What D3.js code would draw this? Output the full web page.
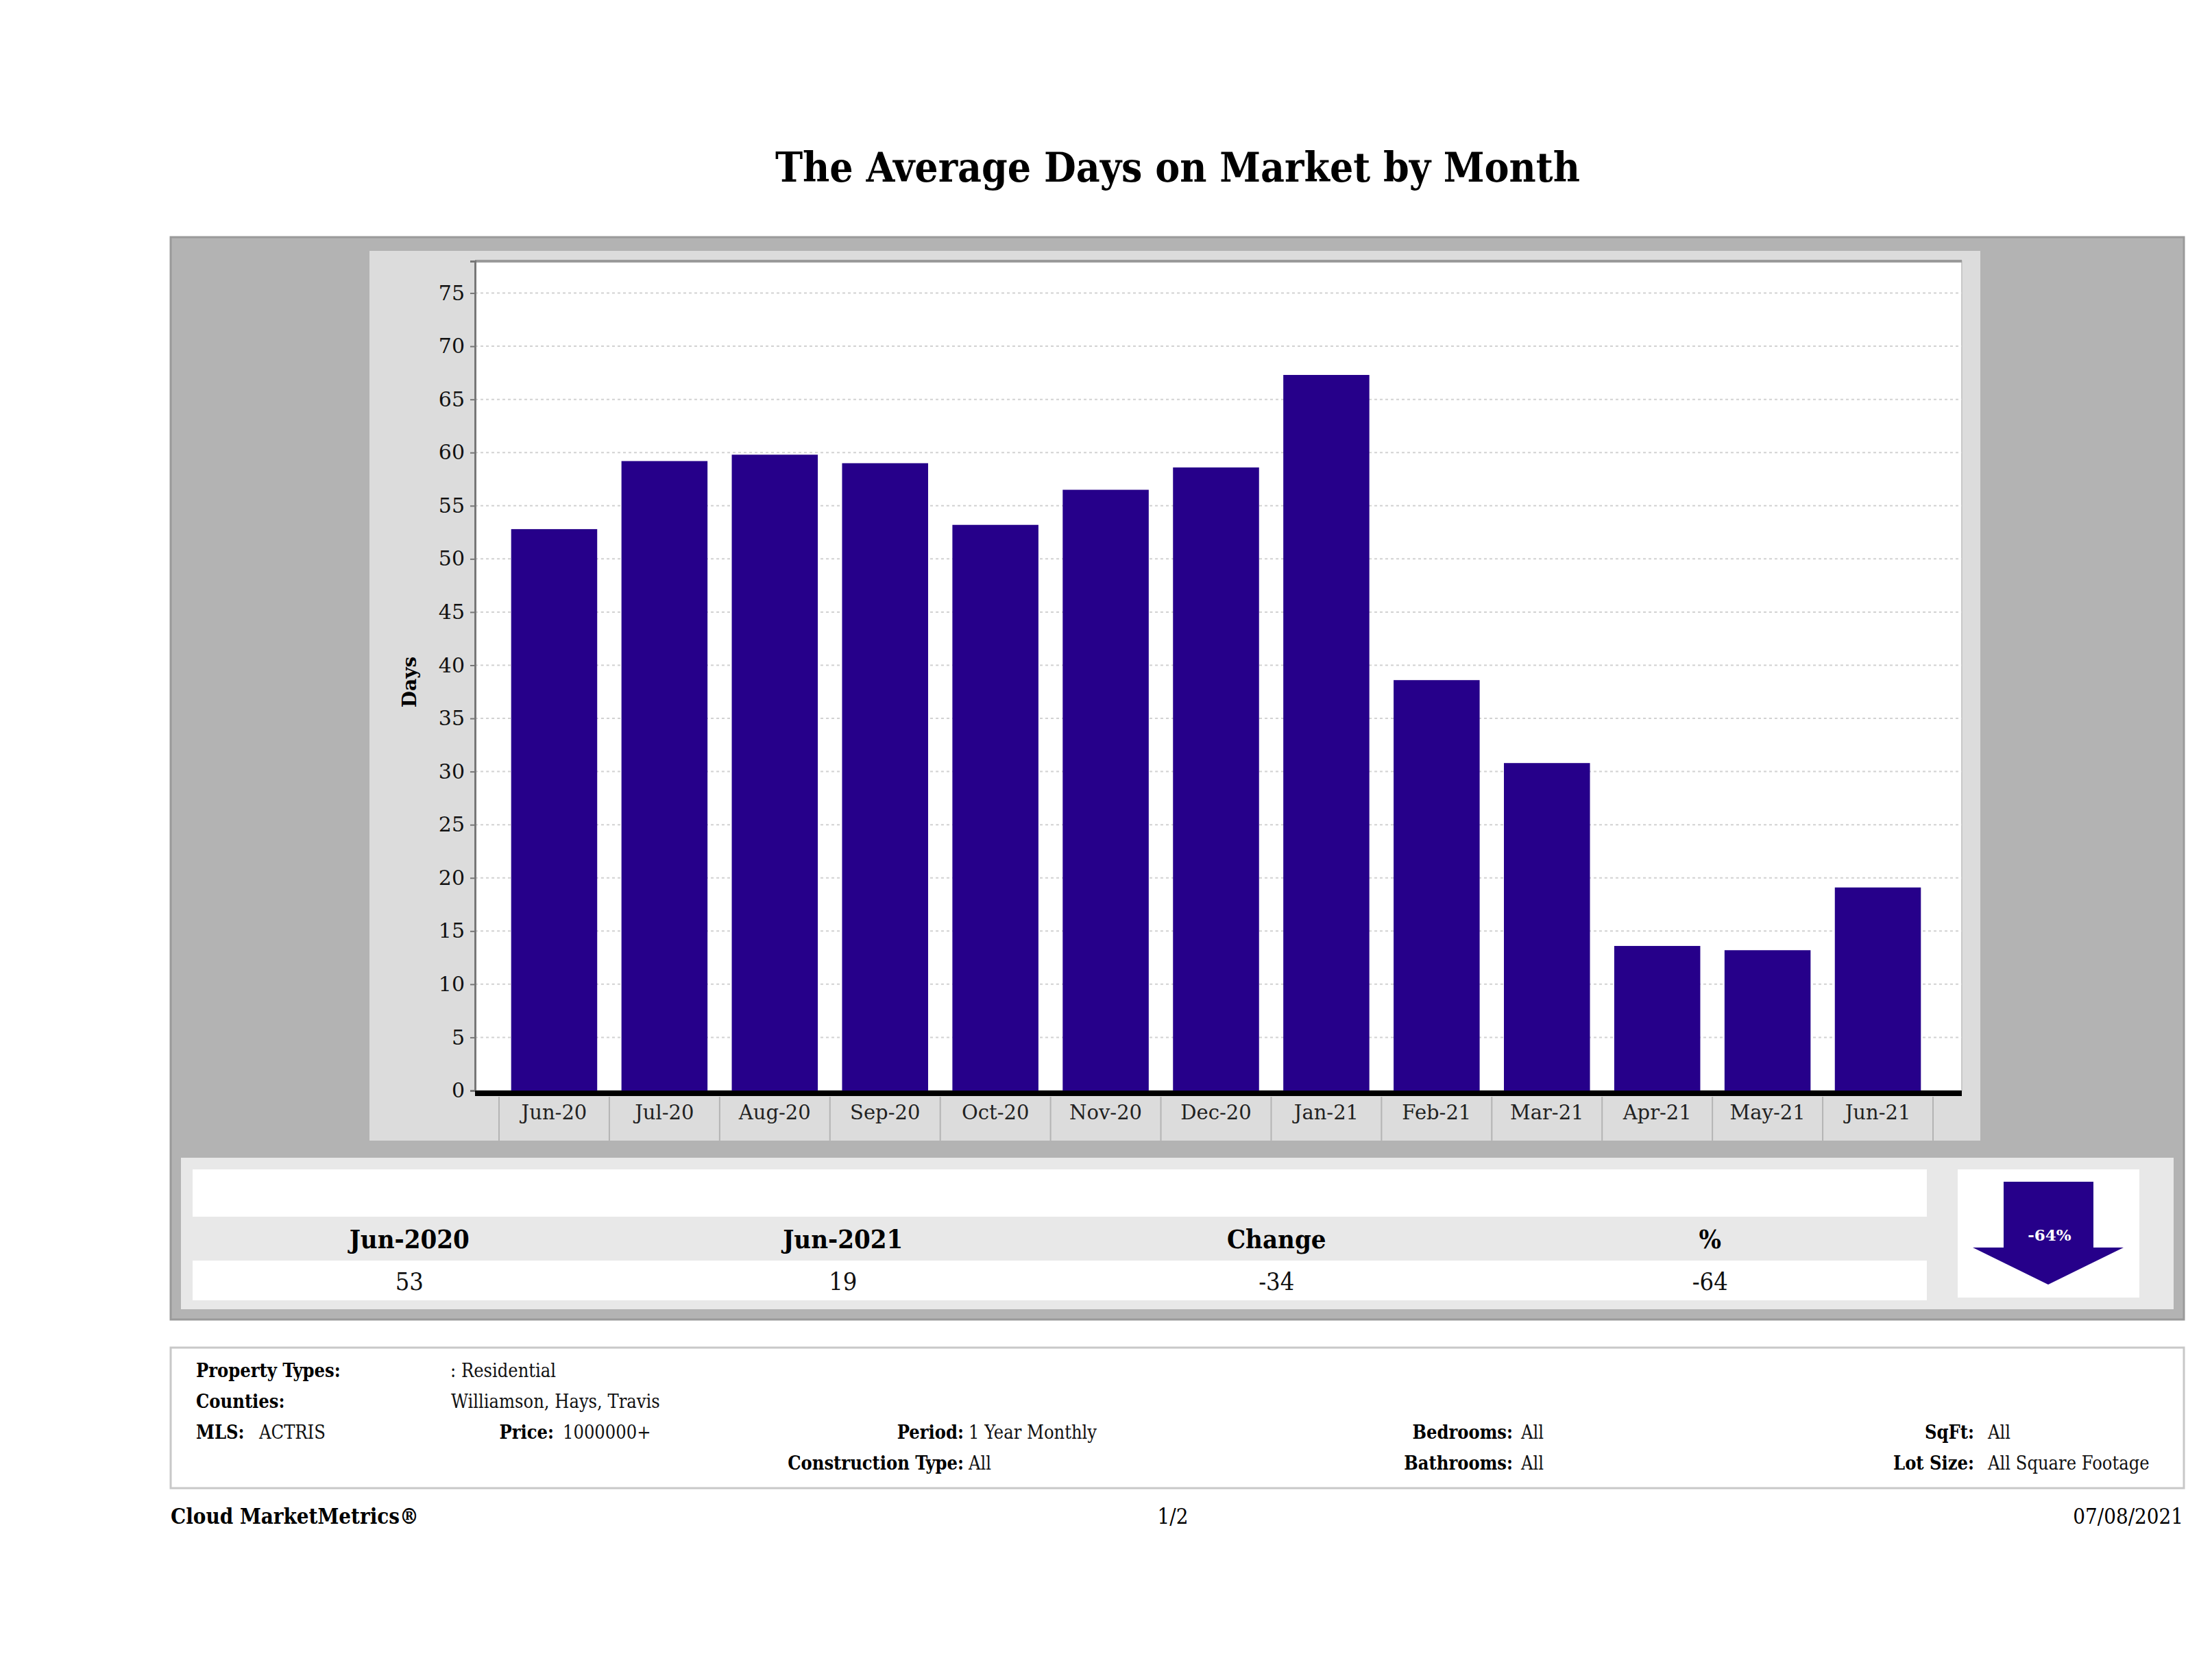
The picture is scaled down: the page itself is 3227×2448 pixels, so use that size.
<!DOCTYPE html>
<html>
<head>
<meta charset="utf-8">
<script src="https://cdn.jsdelivr.net/npm/d3@7"></script>
<style>
  body { margin: 0; background: #fff; }
  text { font-family: "DejaVu Serif", serif; }
  .cond { font-stretch: condensed; }
</style>
</head>
<body>
<div id="chart"></div>
<script>
// data
var months = ["Jun-20", "Jul-20", "Aug-20", "Sep-20", "Oct-20", "Nov-20", "Dec-20",
              "Jan-21", "Feb-21", "Mar-21", "Apr-21", "May-21", "Jun-21"];
var avgDays = [52.8, 59.2, 59.8, 59.0, 53.2, 56.5, 58.6, 67.3, 38.6, 30.8, 13.6, 13.2, 19.1];
var yTickValues = [0, 5, 10, 15, 20, 25, 30, 35, 40, 45, 50, 55, 60, 65, 70, 75];

var statHeaders = ["Jun-2020", "Jun-2021", "Change", "%"];
var statValues = ["53", "19", "-34", "-64"];
var pctLabel = "-64%";

var infoLabels = ["Property Types:", "Counties:", "MLS:", "Price:", "Period:", "Construction Type:",
                  "Bedrooms:", "Bathrooms:", "SqFt:", "Lot Size:"];
var infoValues = [": Residential", "Williamson, Hays, Travis", "ACTRIS", "1000000+", "1 Year Monthly", "All",
                  "All", "All", "All", "All Square Footage"];

var W = 3227, H = 2448;
var barColor = "#26008a";

var svg = d3.select("#chart").append("svg")
  .attr("width", W)
  .attr("height", H);

svg.append("rect").attr("width", W).attr("height", H).attr("fill", "#fff");

// title
svg.append("text")
  .attr("class", "cond")
  .attr("x", 1718)
  .attr("y", 265)
  .attr("text-anchor", "middle")
  .attr("font-size", 60)
  .attr("font-weight", "bold")
  .text("The Average Days on Market by Month");

// outer gray panel
svg.append("rect")
  .attr("x", 249).attr("y", 346)
  .attr("width", 3186 - 249).attr("height", 1925 - 346)
  .attr("fill", "#b3b3b3")
  .attr("stroke", "#9a9a9a").attr("stroke-width", 3);

// chart panel
svg.append("rect")
  .attr("x", 539).attr("y", 366)
  .attr("width", 2889 - 539).attr("height", 1664 - 366)
  .attr("fill", "#dcdcdc");

// plot area
var plot = { left: 693, right: 2862, top: 381, bottom: 1591 };

svg.append("rect")
  .attr("x", plot.left).attr("y", plot.top)
  .attr("width", plot.right - plot.left).attr("height", plot.bottom - plot.top)
  .attr("fill", "#fff")
  .attr("stroke", "#c8c8c8").attr("stroke-width", 2);

svg.append("line")
  .attr("x1", plot.left).attr("x2", plot.right)
  .attr("y1", plot.top).attr("y2", plot.top)
  .attr("stroke", "#9a9a9a").attr("stroke-width", 4);

var x = d3.scaleBand()
  .domain(months)
  .range([728, 2820])
  .paddingInner(0.22)
  .paddingOuter(0.11);

var y = d3.scaleLinear()
  .domain([0, 78])
  .range([plot.bottom, plot.top]);

// grid lines
svg.append("g")
  .selectAll("line")
  .data(yTickValues.filter(function(d) { return d > 0; }))
  .enter()
  .append("line")
  .attr("x1", plot.left).attr("x2", plot.right)
  .attr("y1", function(d) { return y(d); })
  .attr("y2", function(d) { return y(d); })
  .attr("stroke", "#d2d2d2")
  .attr("stroke-width", 2)
  .attr("stroke-dasharray", "4,4");

// bars
svg.append("g")
  .selectAll("rect")
  .data(avgDays)
  .enter()
  .append("rect")
  .attr("x", function(d, i) { return x(months[i]); })
  .attr("y", function(d) { return y(d); })
  .attr("width", x.bandwidth())
  .attr("height", function(d) { return y(0) - y(d); })
  .attr("fill", barColor);

// y axis
var yAxis = d3.axisLeft(y)
  .tickValues(yTickValues)
  .tickSize(7)
  .tickPadding(8);

var yG = svg.append("g")
  .attr("transform", "translate(" + plot.left + ",0)")
  .call(yAxis);
yG.select(".domain").attr("stroke", "#777").attr("stroke-width", 3);
yG.selectAll(".tick line").attr("stroke", "#777").attr("stroke-width", 2);
yG.selectAll(".tick text")
  .attr("font-size", 30)
  .attr("fill", "#111")
  .attr("font-family", "DejaVu Serif");

svg.append("text")
  .attr("transform", "translate(607,995) rotate(-90)")
  .attr("text-anchor", "middle")
  .attr("font-size", 28)
  .attr("font-weight", "bold")
  .text("Days");

// x axis: separators, thick base line, labels
var sepPos = months.map(function(m) { return x(m) - x.step() * x.paddingOuter(); });
sepPos.push(x.range()[1]);

svg.append("g")
  .selectAll("line")
  .data(sepPos)
  .enter()
  .append("line")
  .attr("x1", function(d) { return d; })
  .attr("x2", function(d) { return d; })
  .attr("y1", 1600).attr("y2", 1664)
  .attr("stroke", "#b4b4b4")
  .attr("stroke-width", 2);

var xAxis = d3.axisBottom(x).tickSize(0).tickPadding(21);
var xG = svg.append("g")
  .attr("transform", "translate(0," + plot.bottom + ")")
  .call(xAxis);
xG.select(".domain").remove();
xG.selectAll(".tick text")
  .attr("font-size", 29)
  .attr("fill", "#222")
  .attr("font-family", "DejaVu Serif");

svg.append("line")
  .attr("x1", plot.left).attr("x2", plot.right)
  .attr("y1", y(0) + 4).attr("y2", y(0) + 4)
  .attr("stroke", "#000")
  .attr("stroke-width", 8);

// summary panel
svg.append("rect")
  .attr("x", 264).attr("y", 1689)
  .attr("width", 3171 - 264).attr("height", 1910 - 1689)
  .attr("fill", "#e8e8e8");

svg.append("rect")
  .attr("x", 281).attr("y", 1706)
  .attr("width", 2811 - 281).attr("height", 1775 - 1706)
  .attr("fill", "#fff");

svg.append("rect")
  .attr("x", 281).attr("y", 1839)
  .attr("width", 2811 - 281).attr("height", 1897 - 1839)
  .attr("fill", "#fff");

var col = d3.scaleBand().domain(statHeaders).range([281, 2811]);

svg.append("g")
  .selectAll("text")
  .data(statHeaders)
  .enter()
  .append("text")
  .attr("class", "cond")
  .attr("x", function(d) { return col(d) + col.bandwidth() / 2; })
  .attr("y", 1821)
  .attr("text-anchor", "middle")
  .attr("font-size", 38)
  .attr("font-weight", "bold")
  .text(function(d) { return d; });

svg.append("g")
  .selectAll("text")
  .data(statValues)
  .enter()
  .append("text")
  .attr("class", "cond")
  .attr("x", function(d, i) { return col(statHeaders[i]) + col.bandwidth() / 2; })
  .attr("y", 1882)
  .attr("text-anchor", "middle")
  .attr("font-size", 36)
  .attr("fill", "#111")
  .text(function(d) { return d; });

// arrow box
svg.append("rect")
  .attr("x", 2856).attr("y", 1706)
  .attr("width", 3121 - 2856).attr("height", 1893 - 1706)
  .attr("fill", "#fff");

svg.append("path")
  .attr("d", "M2923,1724 L3054,1724 L3054,1820 L3098,1820 L2988,1874 L2878,1820 L2923,1820 Z")
  .attr("fill", barColor);

svg.append("text")
  .attr("x", 2990).attr("y", 1810)
  .attr("text-anchor", "middle")
  .attr("font-size", 23)
  .attr("font-weight", "bold")
  .attr("fill", "#fff")
  .text(pctLabel);

// info box
svg.append("rect")
  .attr("x", 249).attr("y", 1966)
  .attr("width", 3186 - 249).attr("height", 2171 - 1966)
  .attr("fill", "#fff")
  .attr("stroke", "#c8c8c8").attr("stroke-width", 3);

// label anchor, label x, value x, baseline
var infoPos = [
  ["start", 286, 657, 2009],
  ["start", 286, 658, 2054],
  ["start", 286, 378, 2099],
  ["end", 808, 821, 2099],
  ["end", 1406, 1413, 2099],
  ["end", 1406, 1413, 2144],
  ["end", 2207, 2219, 2099],
  ["end", 2207, 2219, 2144],
  ["end", 2880, 2900, 2099],
  ["end", 2880, 2900, 2144]
];

var info = svg.append("g").attr("font-size", 27);
infoLabels.forEach(function(lab, i) {
  var p = infoPos[i];
  info.append("text")
    .attr("class", "cond")
    .attr("x", p[1]).attr("y", p[3])
    .attr("text-anchor", p[0])
    .attr("font-weight", "bold")
    .text(lab);
  info.append("text")
    .attr("class", "cond")
    .attr("x", p[2]).attr("y", p[3])
    .attr("fill", "#111")
    .text(infoValues[i]);
});

// footer
svg.append("text")
  .attr("class", "cond")
  .attr("x", 249).attr("y", 2223)
  .attr("font-size", 31)
  .attr("font-weight", "bold")
  .text("Cloud MarketMetrics®");

svg.append("text")
  .attr("class", "cond")
  .attr("x", 1711).attr("y", 2223)
  .attr("text-anchor", "middle")
  .attr("font-size", 31)
  .text("1/2");

svg.append("text")
  .attr("class", "cond")
  .attr("x", 3185).attr("y", 2223)
  .attr("text-anchor", "end")
  .attr("font-size", 31)
  .text("07/08/2021");
</script>
</body>
</html>
